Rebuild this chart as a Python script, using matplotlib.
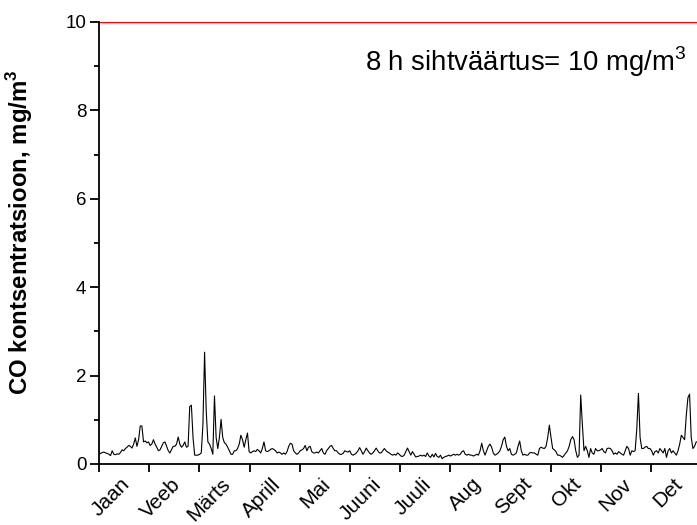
import numpy as np
import matplotlib
matplotlib.use("Agg")
import matplotlib.pyplot as plt
from matplotlib.transforms import ScaledTranslation

plt.rcParams['font.family'] = ['Liberation Sans', 'DejaVu Sans']
plt.rcParams['mathtext.fontset'] = 'custom'
plt.rcParams['mathtext.rm'] = 'Liberation Sans'
plt.rcParams['mathtext.bf'] = 'Liberation Sans:bold'

## Daily 8 h CO values, mg/m3

co = [
    # Jaan
    0.22, 0.24, 0.26, 0.27, 0.25, 0.24, 0.22, 0.19, 0.30, 0.22,
    0.21, 0.23, 0.22, 0.26, 0.32, 0.30, 0.35, 0.38, 0.42, 0.40,
    0.36, 0.45, 0.59, 0.40, 0.55, 0.86, 0.86, 0.50, 0.52, 0.48,
    # Veeb
    0.50, 0.42, 0.45, 0.55, 0.45, 0.38, 0.30, 0.32, 0.40, 0.48,
    0.50, 0.40, 0.30, 0.25, 0.33, 0.40, 0.40, 0.45, 0.61, 0.45,
    0.38, 0.42, 0.50, 0.38, 0.40, 1.30, 1.33, 0.60, 0.20, 0.20,
    # Märts
    0.20, 0.22, 0.25, 0.90, 2.53, 1.20, 0.50, 0.45, 0.35, 0.22,
    1.54, 0.60, 0.35, 0.60, 1.01, 0.60, 0.48, 0.45, 0.38, 0.30,
    0.22, 0.22, 0.30, 0.30, 0.35, 0.45, 0.65, 0.55, 0.38, 0.55,
    # Aprill
    0.70, 0.28, 0.25, 0.28, 0.30, 0.28, 0.33, 0.30, 0.25, 0.35,
    0.50, 0.30, 0.28, 0.30, 0.33, 0.35, 0.33, 0.30, 0.25, 0.27,
    0.25, 0.22, 0.25, 0.22, 0.28, 0.40, 0.47, 0.45, 0.30, 0.25,
    # Mai
    0.22, 0.25, 0.30, 0.32, 0.35, 0.42, 0.30, 0.38, 0.40, 0.28,
    0.25, 0.25, 0.27, 0.25, 0.30, 0.35, 0.25, 0.22, 0.30, 0.35,
    0.40, 0.42, 0.35, 0.30, 0.30, 0.25, 0.22, 0.22, 0.24, 0.30,
    # Juuni
    0.28, 0.27, 0.30, 0.22, 0.20, 0.22, 0.25, 0.30, 0.37, 0.30,
    0.22, 0.28, 0.36, 0.30, 0.25, 0.22, 0.25, 0.30, 0.36, 0.30,
    0.25, 0.25, 0.30, 0.35, 0.30, 0.27, 0.25, 0.22, 0.20, 0.22,
    # Juuli
    0.20, 0.25, 0.22, 0.18, 0.17, 0.20, 0.28, 0.36, 0.28, 0.20,
    0.28, 0.22, 0.16, 0.17, 0.18, 0.20, 0.18, 0.20, 0.17, 0.25,
    0.18, 0.15, 0.22, 0.16, 0.24, 0.17, 0.15, 0.20, 0.12, 0.15,
    # Aug
    0.17, 0.18, 0.20, 0.18, 0.20, 0.22, 0.20, 0.22, 0.20, 0.22,
    0.28, 0.30, 0.22, 0.20, 0.22, 0.20, 0.20, 0.18, 0.20, 0.22,
    0.20, 0.30, 0.47, 0.30, 0.20, 0.30, 0.40, 0.45, 0.38, 0.25,
    # Sept
    0.20, 0.22, 0.25, 0.30, 0.40, 0.55, 0.61, 0.40, 0.30, 0.35,
    0.22, 0.20, 0.22, 0.25, 0.40, 0.52, 0.30, 0.20, 0.22, 0.20,
    0.20, 0.25, 0.26, 0.25, 0.25, 0.22, 0.20, 0.35, 0.38, 0.36,
    # Okt
    0.35, 0.40, 0.60, 0.88, 0.60, 0.35, 0.32, 0.28, 0.20, 0.20,
    0.18, 0.15, 0.20, 0.25, 0.30, 0.40, 0.55, 0.62, 0.55, 0.30,
    0.15, 0.20, 1.56, 0.90, 0.30, 0.40, 0.30, 0.15, 0.35, 0.25,
    # Nov
    0.22, 0.35, 0.30, 0.30, 0.32, 0.35, 0.28, 0.25, 0.35, 0.36,
    0.35, 0.30, 0.22, 0.25, 0.22, 0.28, 0.25, 0.22, 0.20, 0.30,
    0.40, 0.35, 0.20, 0.30, 0.28, 0.30, 0.80, 1.60, 0.60, 0.35,
    # Det
    0.35, 0.38, 0.40, 0.35, 0.35, 0.30, 0.20, 0.28, 0.30, 0.25,
    0.35, 0.30, 0.25, 0.35, 0.15, 0.30, 0.35, 0.25, 0.30, 0.25,
    0.20, 0.30, 0.45, 0.65, 0.60, 0.55, 1.10, 1.50, 1.58, 0.60,
    0.35, 0.40, 0.50, 0.50,
]

months = ["Jaan", "Veeb", "Märts", "Aprill", "Mai", "Juuni",
          "Juuli", "Aug", "Sept", "Okt", "Nov", "Det"]
limit = 10  # 8 h sihtväärtus

days = np.arange(len(co))
month_pos = np.arange(12) * 365.0 / 12

fig = plt.figure(figsize=(6.97, 5.25), dpi=100)
ax = fig.add_axes([99 / 697, 61 / 525, 598 / 697, 442 / 525])

ax.plot(days, co, color="black", linewidth=0.8)
ax.axhline(limit, color="red", linewidth=1.0)

ax.set_xlim(0, 362.5)
ax.set_ylim(0, 10)

ax.spines['top'].set_visible(False)
ax.spines['right'].set_visible(False)
ax.spines['left'].set_linewidth(1.3)
ax.spines['bottom'].set_linewidth(1.3)

ax.set_yticks([0, 2, 4, 6, 8, 10])
ax.set_yticks(np.arange(1, 10, 2), minor=True)
ax.tick_params(axis='y', which='major', length=6.5, width=1.3, labelsize=13.5, pad=2.5)
ax.tick_params(axis='y', which='minor', length=3.5, width=1.3)

ax.set_xticks(month_pos)
ax.set_xticklabels(months, rotation=45, ha='right', va='center', rotation_mode='anchor')
ax.tick_params(axis='x', which='major', length=6, width=1.3, labelsize=15, pad=6.5)
shift = ScaledTranslation(0.28, 0, fig.dpi_scale_trans)
for lab in ax.get_xticklabels():
    lab.set_transform(lab.get_transform() + shift)

ax.set_ylabel(r"CO kontsentratsioon, mg/m$^\mathbf{3}$", fontsize=17.3, fontweight='bold')
ax.yaxis.set_label_coords(-0.107, 0.525)

ax.text(161, 8.9, r"8 h sihtväärtus= 10 mg/m$^3$", fontsize=19.8)

fig.savefig("out.png", dpi=100)
